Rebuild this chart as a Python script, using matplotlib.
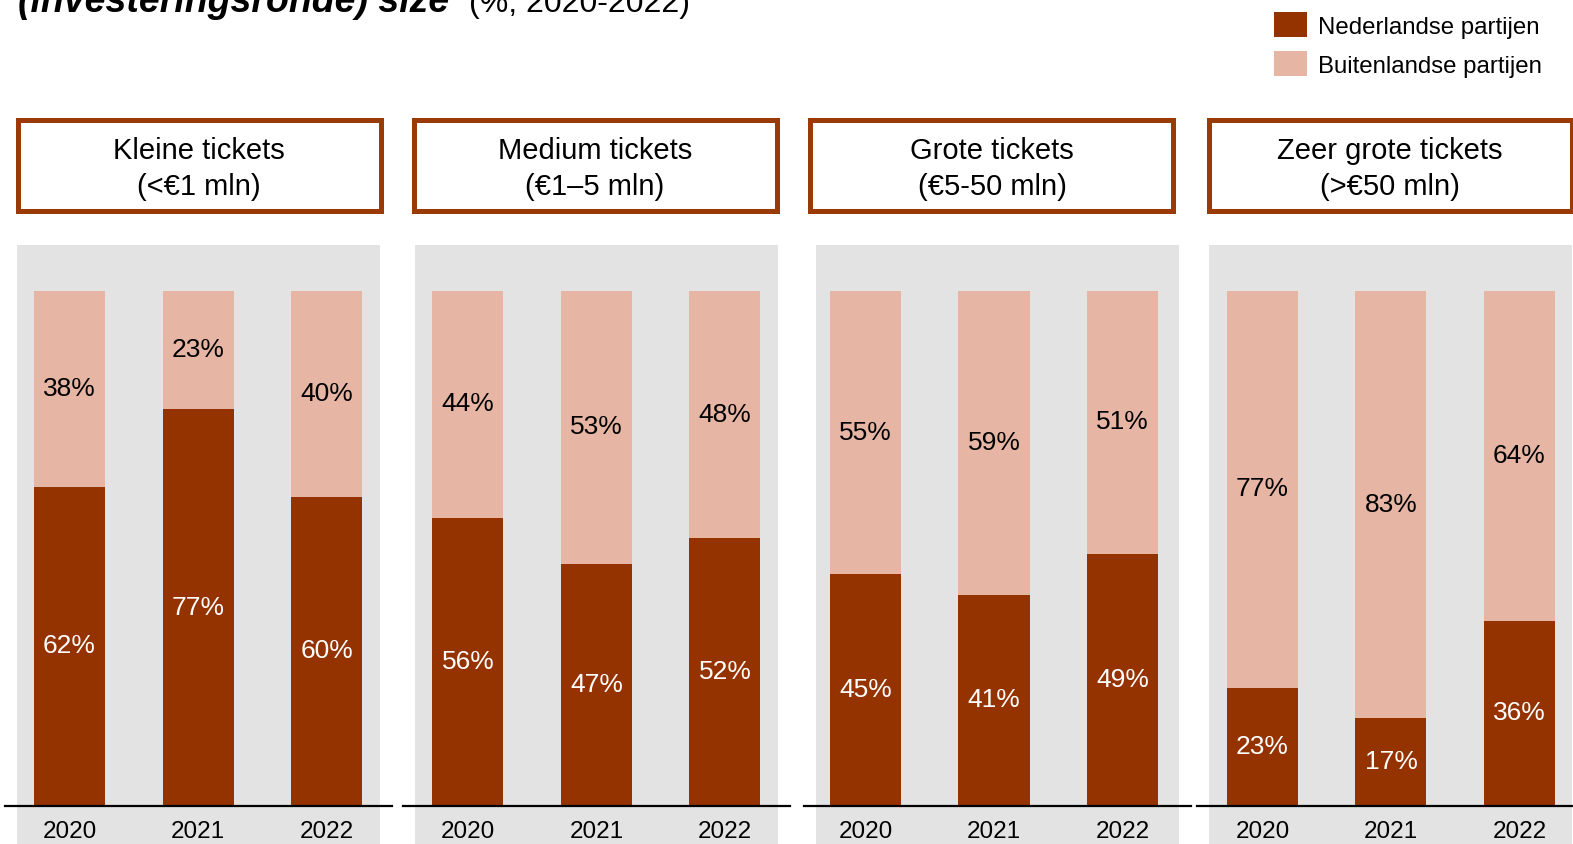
import matplotlib
matplotlib.use("Agg")
import matplotlib.pyplot as plt
from matplotlib.patches import Rectangle
import numpy as np

plt.rcParams['font.family'] = ['Liberation Sans', 'DejaVu Sans']

# ---- data ----
years = ["2020", "2021", "2022"]
panel_titles = ["Kleine tickets\n(<€1 mln)", "Medium tickets\n(€1–5 mln)",
                "Grote tickets\n(€5-50 mln)", "Zeer grote tickets\n(>€50 mln)"]
nl_kleine = [62, 77, 60]
bl_kleine = [38, 23, 40]
nl_medium = [56, 47, 52]
bl_medium = [44, 53, 48]
nl_grote = [45, 41, 49]
bl_grote = [55, 59, 51]
nl_zeer = [23, 17, 36]
bl_zeer = [77, 83, 64]
series_nl = [nl_kleine, nl_medium, nl_grote, nl_zeer]
series_bl = [bl_kleine, bl_medium, bl_grote, bl_zeer]
legend_labels = ["Nederlandse partijen", "Buitenlandse partijen"]

DARK = "#943300"
LIGHT = "#E6B5A4"
GREY = "#E3E3E3"
BORDER = "#9A3A06"

W, H = 1573, 844
fig = plt.figure(figsize=(W / 100, H / 100), dpi=100)

def fx(px):
    return px / W

def fy(py):
    return 1 - py / H

panel_lefts = [17, 415, 816, 1209]
panel_xlo = [-0.409, -0.412, -0.385, -0.416]
box_lefts = [15, 411, 808, 1206]
box_w = 368
panel_w = 363
panel_top = 245
base_px = 806
top_px = 291
ppu = (base_px - top_px) / 100.0
ylo = -(H - base_px) / ppu
yhi = 100 + (top_px - panel_top) / ppu
spacing = 128.5

for i in range(4):
    L = panel_lefts[i]
    ax = fig.add_axes([fx(L), 0, panel_w / W, (H - panel_top) / H])
    ax.set_facecolor(GREY)
    for s in ax.spines.values():
        s.set_visible(False)
    ax.set_xticks([])
    ax.set_yticks([])
    x = np.arange(len(years))
    nl = series_nl[i]
    bl = series_bl[i]
    ax.bar(x, nl, width=0.553, color=DARK, zorder=2)
    ax.bar(x, bl, width=0.553, bottom=nl, color=LIGHT, zorder=2)
    ax.set_xlim(panel_xlo[i], panel_xlo[i] + panel_w / spacing)
    ax.set_ylim(ylo, yhi)
    for xi, a, b in zip(x, nl, bl):
        ax.text(xi, a / 2, f"{a}%", ha="center", va="center", color="white",
                fontsize=19, zorder=3)
        ax.text(xi, a + b / 2, f"{b}%", ha="center", va="center", color="black",
                fontsize=19, zorder=3)
        ax.text(xi, -(832 - base_px) / ppu, years[xi], ha="center", va="center",
                color="black", fontsize=17.5)
    ax.axhline(0, xmin=-12 / panel_w, xmax=1 + 12 / panel_w, color="black",
               lw=1.6, clip_on=False, zorder=4)

    # header box
    bx0, bx1 = box_lefts[i] + 2.5, box_lefts[i] + box_w - 2.5
    by0, by1 = 120.5, 210.5
    fig.add_artist(Rectangle((fx(bx0), fy(by1)), (bx1 - bx0) / W, (by1 - by0) / H,
                             transform=fig.transFigure, facecolor="white",
                             edgecolor=BORDER, lw=3.6))
    fig.text(fx((bx0 + bx1) / 2), fy(169), panel_titles[i], ha="center",
             va="center", fontsize=21, linespacing=1.32)

# legend (manual)
for j, (lab, col) in enumerate(zip(legend_labels, [DARK, LIGHT])):
    y0 = 12 + j * 39
    fig.add_artist(Rectangle((fx(1274), fy(y0 + 25)), 33 / W, 25 / H,
                             transform=fig.transFigure, facecolor=col,
                             edgecolor="none"))
    fig.text(fx(1318), fy(y0 + 16), lab, ha="left", va="center", fontsize=17.3)

# title (cut off at top, as in the reference)
fig.text(fx(18), fy(12), "(investeringsronde) size", ha="left", va="baseline",
         fontsize=27, fontweight="bold", fontstyle="italic")
fig.text(fx(469), fy(12), "(%, 2020-2022)", ha="left", va="baseline",
         fontsize=23)

fig.savefig("out.png", dpi=100)
